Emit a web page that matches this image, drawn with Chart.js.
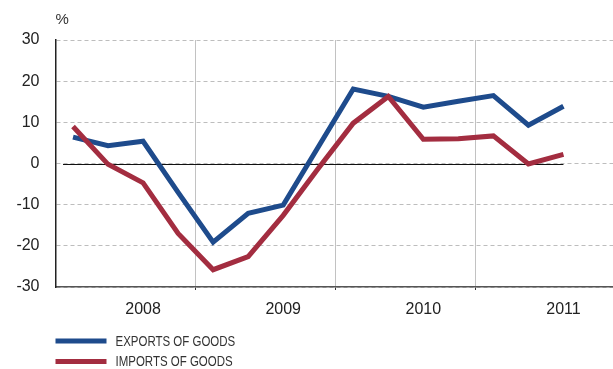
<!DOCTYPE html>
<html>
<head>
<meta charset="utf-8">
<script src="https://cdn.jsdelivr.net/npm/chart.js@4/dist/chart.umd.min.js"></script>
<style>
  html, body { margin: 0; padding: 0; background: #fff; }
  #wrap { width: 613px; height: 369px; overflow: hidden; }
</style>
</head>
<body>
<div id="wrap"><canvas id="chart" width="620" height="369"></canvas></div>
<script>
// quarterly categories, year label is shown under Q3
var categories = [
  '2008 Q1', '2008 Q2', '2008 Q3', '2008 Q4',
  '2009 Q1', '2009 Q2', '2009 Q3', '2009 Q4',
  '2010 Q1', '2010 Q2', '2010 Q3', '2010 Q4',
  '2011 Q1', '2011 Q2', '2011 Q3', '2011 Q4'
];
var exportsOfGoods = [6.4, 4.3, 5.4, -7.0, -19.1, -12.1, -10.1, 4.0, 18.1, 16.3, 13.7, 15.1, 16.5, 9.3, 13.9];
var importsOfGoods = [9.0, -0.2, -4.7, -17.0, -25.8, -22.6, -12.6, -1.2, 9.8, 16.3, 5.9, 6.0, 6.7, -0.1, 2.2];
var yTicks = [-30, -20, -10, 0, 10, 20, 30];

var BLUE = '#1e4b8c';
var RED = '#a32d40';
var FONT = "'Liberation Sans', Arial, sans-serif";

function isYearStart(i) {
    return i > 0 && i < categories.length && i % 4 === 0;
}

// black zero line under the series, from the first to the last quarter with data
var zeroLine = {
    id: 'zeroLine',
    beforeDatasetsDraw: function (chart) {
        var x = chart.scales.x, y = chart.scales.y, ctx = chart.ctx;
        var y0 = Math.round(y.getPixelForValue(0)) + 0.5;
        var last = exportsOfGoods.length - 1;
        ctx.save();
        ctx.strokeStyle = '#111';
        ctx.lineWidth = 1;
        ctx.beginPath();
        ctx.moveTo(x.getPixelForValue(0) - 10, y0);
        ctx.lineTo(x.getPixelForValue(last), y0);
        ctx.stroke();
        ctx.restore();
    }
};

// unit label and the stacked legend below the axis
var extras = {
    id: 'extras',
    afterDraw: function (chart) {
        var ctx = chart.ctx, area = chart.chartArea;
        ctx.save();
        ctx.fillStyle = '#333';
        ctx.font = '15px ' + FONT;
        ctx.textAlign = 'left';
        ctx.textBaseline = 'middle';
        ctx.fillText('%', area.left, area.top - 20);

        var items = chart.data.datasets.slice().sort(function (a, b) { return a.legendIndex - b.legendIndex; });
        items.forEach(function (ds, i) {
            var ly = area.bottom + 54 + i * 20.5;
            ctx.strokeStyle = ds.borderColor;
            ctx.lineWidth = 5;
            ctx.beginPath();
            ctx.moveTo(area.left, ly);
            ctx.lineTo(area.left + 51, ly);
            ctx.stroke();
            // condensed legend text
            ctx.save();
            ctx.translate(area.left + 60, ly + 1);
            ctx.scale(0.82, 1);
            ctx.fillStyle = '#333';
            ctx.font = '14px ' + FONT;
            ctx.fillText(ds.label, 0, 0);
            ctx.restore();
        });
        ctx.restore();
    }
};

new Chart(document.getElementById('chart'), {
    type: 'line',
    data: {
        labels: categories,
        datasets: [
            {
                label: 'EXPORTS OF GOODS',
                data: exportsOfGoods,
                borderColor: BLUE,
                borderWidth: 5,
                pointRadius: 0,
                tension: 0,
                order: 1,
                legendIndex: 0
            },
            {
                label: 'IMPORTS OF GOODS',
                data: importsOfGoods,
                borderColor: RED,
                borderWidth: 5,
                pointRadius: 0,
                tension: 0,
                order: 0,
                legendIndex: 1
            }
        ]
    },
    options: {
        responsive: false,
        animation: false,
        devicePixelRatio: 1,
        layout: { padding: { top: 40, right: 4, bottom: 0, left: 0 } },
        plugins: {
            legend: { display: false },
            tooltip: { enabled: false }
        },
        scales: {
            x: {
                offset: true,
                afterFit: function (scale) { scale.height = 82; },
                grid: {
                    offset: true,
                    drawTicks: true,
                    tickLength: 3,
                    color: function (ctx) { return isYearStart(ctx.index) ? '#c2c2c2' : 'transparent'; },
                    tickColor: function (ctx) { return isYearStart(ctx.index) ? '#333' : 'transparent'; }
                },
                border: { display: true, color: '#555', width: 1.5 },
                ticks: {
                    autoSkip: false,
                    maxRotation: 0,
                    padding: 10,
                    color: '#222',
                    font: { family: FONT, size: 16 },
                    callback: function (value, index) {
                        var c = categories[index];
                        return c.slice(-2) === 'Q3' ? c.slice(0, 4) : '';
                    }
                }
            },
            y: {
                min: yTicks[0],
                max: yTicks[yTicks.length - 1],
                afterFit: function (scale) { scale.width = 55.5; },
                afterBuildTicks: function (scale) {
                    scale.ticks = yTicks.map(function (v) { return { value: v }; });
                },
                grid: {
                    drawTicks: false,
                    color: '#bdbdbd',
                    lineWidth: 1
                },
                border: { display: true, color: '#222', width: 1.5, dash: [4, 3] },
                ticks: {
                    padding: 16,
                    color: '#222',
                    font: { family: FONT, size: 16 }
                }
            }
        }
    },
    plugins: [zeroLine, extras]
});
</script>
</body>
</html>
